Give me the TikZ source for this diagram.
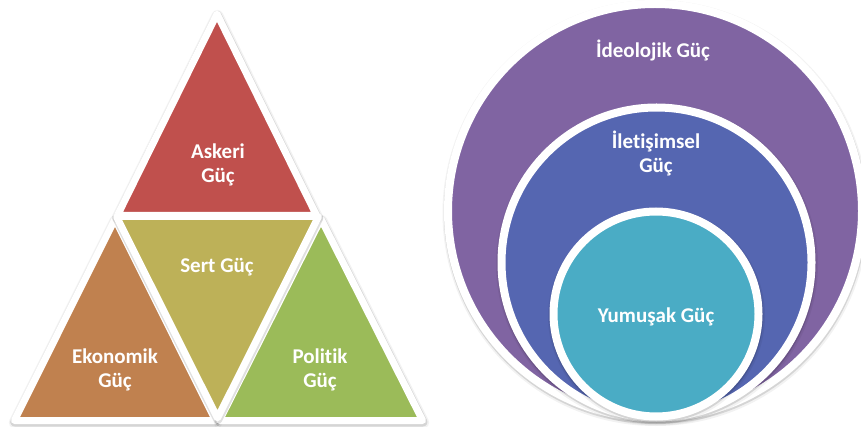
\documentclass[tikz,border=0pt]{standalone}
\usepackage{fontspec}
\setmainfont{Carlito}[Ligatures={NoCommon}]
\definecolor{cRed}{RGB}{192,80,77}
\definecolor{cOlive}{RGB}{189,177,88}
\definecolor{cBrown}{RGB}{192,129,79}
\definecolor{cGreen}{RGB}{155,187,89}
\definecolor{cPurple}{RGB}{128,100,162}
\definecolor{cBlue}{RGB}{85,102,177}
\definecolor{cTeal}{RGB}{74,172,197}
\begin{document}
\begin{tikzpicture}[x=1pt,y=-1pt,
  tribox/.style={draw=white,line width=7pt,line join=round},
  ringbox/.style={draw=white,line width=8pt},
  shdA/.style={draw=black,fill=black,line join=round,line width=12pt,opacity=0.05,yshift=-2pt,xshift=0.5pt},
  shdB/.style={draw=black,fill=black,line join=round,line width=9pt,opacity=0.12,yshift=-1.5pt,xshift=0.3pt},
  lbl/.style={text=white,font=\fontsize{21}{24}\selectfont\bfseries,align=center,inner sep=0pt,anchor=base},
]
\useasboundingbox (0,0) rectangle (861,427);
% ---------- left: triangles ----------
% brown (left)
\path[shdA] (115,219) -- (14.4,420.5) -- (215.6,420.5) -- cycle;
\path[shdB] (115,219) -- (14.4,420.5) -- (215.6,420.5) -- cycle;
\path[tribox,fill=cBrown] (115,219) -- (14.4,420.5) -- (215.6,420.5) -- cycle;
% green (right)
\path[shdA] (321,219) -- (219.4,420.5) -- (422.6,420.5) -- cycle;
\path[shdB] (321,219) -- (219.4,420.5) -- (422.6,420.5) -- cycle;
\path[tribox,fill=cGreen] (321,219) -- (219.4,420.5) -- (422.6,420.5) -- cycle;
% red (top)
\path[shdA] (217,14) -- (117.4,215.5) -- (316.6,215.5) -- cycle;
\path[shdB] (217,14) -- (117.4,215.5) -- (316.6,215.5) -- cycle;
\path[tribox,fill=cRed] (217,14) -- (117.4,215.5) -- (316.6,215.5) -- cycle;
% olive (middle, inverted)
\path[shdB] (116.5,216.5) -- (318.5,216.5) -- (217.5,418) -- cycle;
\path[tribox,fill=cOlive] (116.5,216.5) -- (318.5,216.5) -- (217.5,418) -- cycle;
% ---------- right: stacked circles ----------
\path[shdA] (655,211) circle[radius=207];
\path[shdB] (655,211) circle[radius=207];
\path[ringbox,fill=cPurple] (655,211) circle[radius=207];
\path[shdA] (656.5,262.5) circle[radius=155];
\path[shdB] (656.5,262.5) circle[radius=155];
\path[ringbox,fill=cBlue] (656.5,262.5) circle[radius=155];
\path[shdA] (656,314) circle[radius=102.5];
\path[shdB] (656,314) circle[radius=102.5];
\path[ringbox,fill=cTeal] (656,314) circle[radius=102.5];
% ---------- labels (base = last line) ----------
\node[lbl] (askeri) at (218,183) {Askeri\\Güç};
\node[lbl] (sert) at (217,273) {Sert Güç};
\node[lbl] (ekonomik) at (115,387) {Ekonomik\\Güç};
\node[lbl] (politik) at (320,387) {Politik\\Güç};
\node[lbl] (ideolojik) at (653,58) {İdeolojik Güç};
\node[lbl] (iletisimsel) at (656,173) {İletişimsel\\Güç};
\node[lbl] (yumusak) at (656,322) {Yumuşak Güç};
\end{tikzpicture}
\end{document}
